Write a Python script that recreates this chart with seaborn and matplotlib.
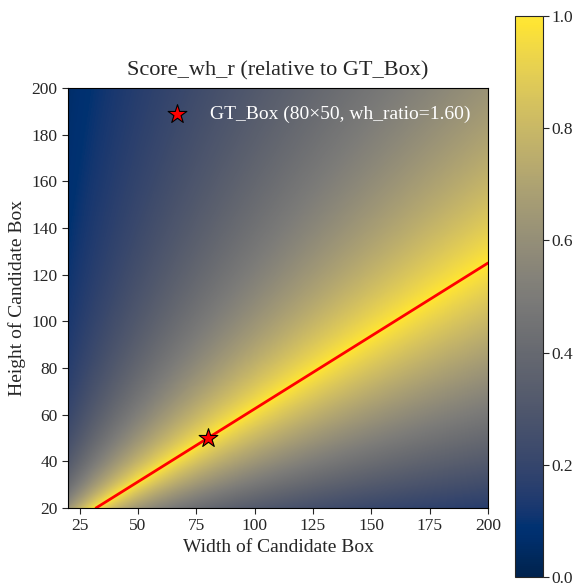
import numpy as np
import matplotlib
matplotlib.use("Agg")
import matplotlib.pyplot as plt
import seaborn as sns
import pandas as pd

# Data
gt_w = 80
gt_h = 50
w_range = [20, 200]
h_range = [20, 200]
x_ticks = [25, 50, 75, 100, 125, 150, 175, 200]
y_ticks = [20, 40, 60, 80, 100, 120, 140, 160, 180, 200]
cbar_ticks = [0.0, 0.2, 0.4, 0.6, 0.8, 1.0]

sns.set_style("white")
plt.rcParams['font.family'] = ['Liberation Serif', 'DejaVu Serif']

gt_ratio = gt_w / gt_h
ws = np.linspace(w_range[0], w_range[1], 400)
hs = np.linspace(h_range[0], h_range[1], 400)
W, H = np.meshgrid(ws, hs)
R = W / H
score = np.minimum(R, gt_ratio) / np.maximum(R, gt_ratio)

fig = plt.figure(figsize=(5.73, 5.88), dpi=100)
ax = fig.add_axes([68/573, 1 - 508/588, 420/573, 420/588])
cax = fig.add_axes([515/573, 1 - 577/588, 28/573, 561/588])

im = ax.imshow(score, extent=[w_range[0], w_range[1], h_range[0], h_range[1]],
               origin='lower', cmap='cividis', vmin=0, vmax=1, aspect='auto')

line_w = np.linspace(gt_ratio * h_range[0], w_range[1], 50)
line_df = pd.DataFrame({"w": line_w, "h": line_w / gt_ratio})
sns.lineplot(data=line_df, x="w", y="h", color="red", linewidth=2, ax=ax)

star_df = pd.DataFrame({"w": [gt_w], "h": [gt_h]})
sns.scatterplot(data=star_df, x="w", y="h", marker="*", s=200, color="red",
                edgecolor="black", linewidth=0.8, zorder=5, ax=ax,
                label=f"GT_Box ({gt_w}×{gt_h}, wh_ratio={gt_ratio:.2f})")

ax.set_xlim(w_range)
ax.set_ylim(h_range)
ax.set_xticks(x_ticks)
ax.set_yticks(y_ticks)
ax.tick_params(axis='both', labelsize=12.5, length=4, width=0.8, direction='out',
               bottom=True, left=True)
ax.set_xlabel("Width of Candidate Box", fontsize=14, labelpad=3)
ax.set_ylabel("Height of Candidate Box", fontsize=14)
ax.set_title("Score_wh_r (relative to GT_Box)", fontsize=16, pad=9)
for s in ax.spines.values():
    s.set_color("black")
    s.set_linewidth(0.8)

leg = ax.legend(loc="upper right", frameon=False, fontsize=14, labelcolor="white",
                handletextpad=0.7)

cb = fig.colorbar(im, cax=cax)
cb.set_ticks(cbar_ticks)
cb.ax.tick_params(labelsize=12.5, length=4, pad=2)
cb.outline.set_linewidth(0.8)

fig.savefig("out.png", dpi=100)
